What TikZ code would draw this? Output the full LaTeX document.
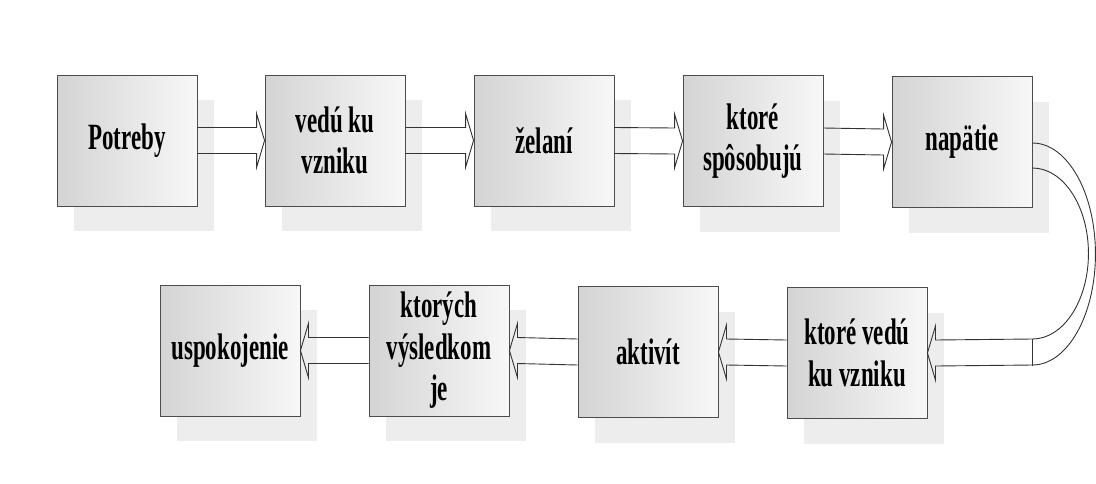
\documentclass[tikz,border=0pt]{standalone}
\usepackage{fontspec}
\newfontfamily\boxfont{Liberation Serif}[FakeStretch=0.62]
\usetikzlibrary{calc,shadows}

\tikzset{
  stepbox/.style={draw=black!70, line width=0.9pt, minimum width=140pt, minimum height=131pt,
    inner sep=0pt, align=center, left color=black!17, right color=black!3,
    general shadow={shadow xshift=17pt, shadow yshift=-25pt, fill=black!7, draw=none},
    font=\boxfont\bfseries\fontsize{37}{41.5}\selectfont},
  arrowline/.style={draw=black!80, line width=0.9pt, line join=miter}
}

% hollow block arrows between boxes
\newcommand{\blockarrowR}[2]{\draw[arrowline] ($(#1.east)+(0,-13)$) -- ($(#2.west)+(-8,-13)$)
  -- ($(#2.west)+(-8,-27)$) -- (#2.west) -- ($(#2.west)+(-8,27)$) -- ($(#2.west)+(-8,13)$) -- ($(#1.east)+(0,13)$);}
\newcommand{\blockarrowL}[2]{\draw[arrowline] ($(#1.west)+(0,-13)$) -- ($(#2.east)+(8,-13)$)
  -- ($(#2.east)+(8,-27)$) -- (#2.east) -- ($(#2.east)+(8,27)$) -- ($(#2.east)+(8,13)$) -- ($(#1.west)+(0,13)$);}

\begin{document}
\begin{tikzpicture}[x=1pt, y=-1pt]
  \useasboundingbox (0,0) rectangle (1096,483);

  % top row
  \node[stepbox] (potreby) at (127,140.5) {Potreby};
  \node[stepbox] (vedu)    at (335,140.5) {vedú ku\\vzniku};
  \node[stepbox] (zelani)  at (544,140.5) {želaní};
  \node[stepbox] (ktore)   at (753,141) {ktoré\\spôsobujú};
  \node[stepbox] (napatie) at (962,142) {napätie};

  % bottom row
  \node[stepbox] (uspok)   at (230,350.5) {uspokojenie};
  \node[stepbox] (vysledok) at (439,350.5) {ktorých\\výsledkom\\je};
  \node[stepbox] (aktivit) at (648,352) {aktivít};
  \node[stepbox] (kvedu)   at (857,353) {ktoré vedú\\ku vzniku};

  \blockarrowR{potreby}{vedu}
  \blockarrowR{vedu}{zelani}
  \blockarrowR{zelani}{ktore}
  \blockarrowR{ktore}{napatie}

  \blockarrowL{kvedu}{aktivit}
  \blockarrowL{aktivit}{vysledok}
  \blockarrowL{vysledok}{uspok}

  % U-turn from napatie down to the bottom row
  \coordinate (uo) at ($(napatie.east)+(0,1)$);
  \coordinate (ue) at ($(kvedu.east)+(105,-14)$);
  \draw[arrowline] (uo) arc[start angle=-90, end angle=90, x radius=63, y radius=111]
    -- ($(kvedu.east)+(8,13)$) -- ($(kvedu.east)+(8,27)$) -- (kvedu.east)
    -- ($(kvedu.east)+(8,-27)$) -- ($(kvedu.east)+(8,-13)$) -- (ue)
    arc[start angle=90, end angle=-90, x radius=56, y radius=85.5];
  \draw[arrowline] (ue) -- ++(0,27);
\end{tikzpicture}
\end{document}
